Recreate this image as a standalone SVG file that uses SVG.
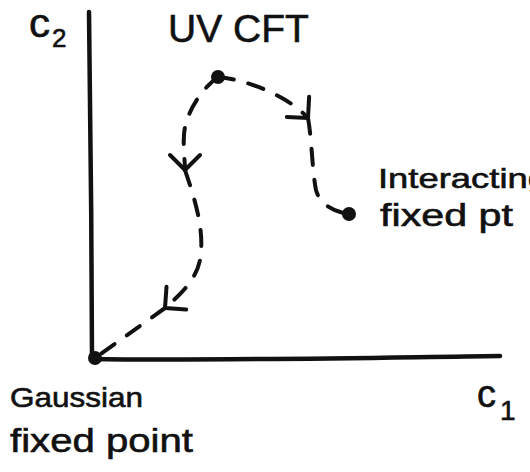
<svg xmlns="http://www.w3.org/2000/svg" width="530" height="472" viewBox="0 0 530 472">
<style>
.ink{fill:none;stroke:#111;stroke-linecap:round;stroke-linejoin:round}
.axis{stroke-width:4.5}
.flow{stroke-width:4;stroke-dasharray:16 15}
.dot{fill:#111}
text{font-family:"Liberation Sans",Arial,sans-serif;fill:#111;stroke:#111;stroke-width:0.6}
</style>
<defs>
<marker id="chev" viewBox="-20 -16 24 32" refX="0" refY="0" markerWidth="24" markerHeight="32" markerUnits="userSpaceOnUse" orient="auto" overflow="visible">
<path d="M-15,-15 L0,0 L-15,15" fill="none" stroke="#111" stroke-width="4" stroke-linecap="round" stroke-linejoin="round"/>
</marker>
</defs>
<rect width="530" height="472" fill="#fff"/>
<g id="axes">
<path class="ink axis" d="M89,12 C90,100 92,250 92,358"/>
<path class="ink axis" d="M92,359 C200,361 350,358 500,356"/>
<text x="29" y="37" font-size="40" textLength="21" lengthAdjust="spacingAndGlyphs">c</text>
<text x="52" y="47" font-size="26">2</text>
<text x="477" y="407" font-size="38">c<tspan font-size="28" dy="13" dx="4">1</tspan></text>
</g>
<g id="connectors">
<path class="ink flow" d="M218,77 C200,90 185,115 184,135 C183,150 185,160 185,170" marker-end="url(#chev)"/>
<path class="ink flow" d="M185,170 C195,200 205,230 200,260 C196,280 180,295 165,308" marker-end="url(#chev)"/>
<path class="ink flow" d="M165,308 L95,358"/>
<path class="ink flow" d="M218,77 C250,80 290,98 308,118" marker-end="url(#chev)"/>
<path class="ink flow" d="M308,118 C312,140 312,170 316,190 C320,205 335,212 349,214"/>
</g>
<g id="uv-cft">
<circle class="dot" cx="218" cy="77" r="7"/>
<text x="168" y="42" font-size="39">UV CFT</text>
</g>
<g id="interacting-fixed-pt">
<circle class="dot" cx="349" cy="214" r="7"/>
<text x="378" y="188" font-size="28" textLength="170" lengthAdjust="spacingAndGlyphs">Interacting</text>
<text x="380" y="226" font-size="32" textLength="133" lengthAdjust="spacingAndGlyphs">fixed pt</text>
</g>
<g id="gaussian-fixed-point">
<circle class="dot" cx="95" cy="358" r="7"/>
<text x="10" y="407" font-size="28" textLength="133" lengthAdjust="spacingAndGlyphs">Gaussian</text>
<text x="10" y="452" font-size="34" textLength="183" lengthAdjust="spacingAndGlyphs">fixed point</text>
</g>
</svg>
